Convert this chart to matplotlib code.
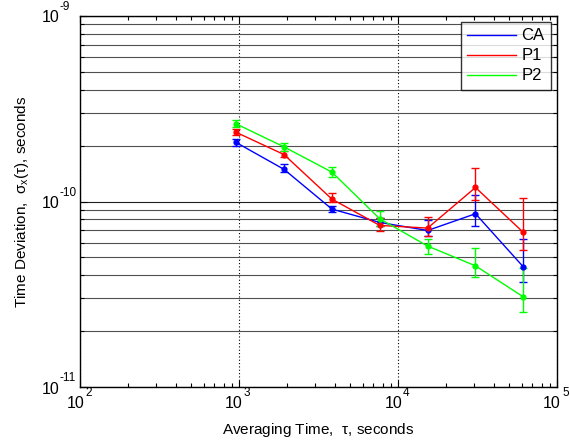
import matplotlib
matplotlib.use("Agg")
import matplotlib.pyplot as plt
from matplotlib.ticker import LogLocator, NullFormatter, FixedLocator
from matplotlib.transforms import offset_copy
import numpy as np

plt.rcParams['font.family'] = ['Liberation Sans', 'DejaVu Sans']
plt.rcParams['mathtext.fontset'] = 'custom'
plt.rcParams['mathtext.rm'] = 'Liberation Sans'
plt.rcParams['mathtext.it'] = 'Liberation Sans'
plt.rcParams['mathtext.sf'] = 'Liberation Sans'

tau = [960, 1920, 3840, 7680, 15360, 30720, 61440]

ca = [2.08e-10, 1.49e-10, 9.1e-11, 7.71e-11, 6.98e-11, 8.59e-11, 4.44e-11]
ca_hi = [2.18e-10, 1.59e-10, 9.48e-11, 8.15e-11, 7.97e-11, 1.087e-10, 6.28e-11]
ca_lo = [1.98e-10, 1.44e-10, 8.73e-11, 7.34e-11, 6.54e-11, 7.39e-11, 3.67e-11]

p1 = [2.36e-10, 1.79e-10, 1.03e-10, 7.43e-11, 7.19e-11, 1.19e-10, 6.81e-11]
p1_hi = [2.45e-10, 1.88e-10, 1.11e-10, 8.15e-11, 8.2e-11, 1.52e-10, 1.04e-10]
p1_lo = [2.28e-10, 1.73e-10, 1.0e-10, 6.9e-11, 6.49e-11, 1.02e-10, 5.45e-11]

p2 = [2.62e-10, 1.97e-10, 1.44e-10, 8.07e-11, 5.75e-11, 4.5e-11, 3.06e-11]
p2_hi = [2.76e-10, 2.07e-10, 1.54e-10, 8.91e-11, 6.28e-11, 5.59e-11, 4.39e-11]
p2_lo = [2.51e-10, 1.88e-10, 1.36e-10, 7.34e-11, 5.24e-11, 3.94e-11, 2.53e-11]

x_ticks = [1e2, 1e3, 1e4, 1e5]
x_exps = ['2', '3', '4', '5']
y_ticks = [1e-11, 1e-10, 1e-9]
y_exps = ['-11', '-10', '-9']

series = [("CA", ca, ca_lo, ca_hi, "#0000ff"),
          ("P1", p1, p1_lo, p1_hi, "#ff0000"),
          ("P2", p2, p2_lo, p2_hi, "#00ff00")]

fig = plt.figure(figsize=(5.7, 4.45), dpi=100)
ax = fig.add_axes([80/570, 1-387/445, (557-80)/570, (387-16)/445])
ax.set_xscale('log')
ax.set_yscale('log')
ax.set_xlim(1e2, 1e5)
ax.set_ylim(1e-11, 1e-9)

ax.xaxis.set_major_locator(FixedLocator(x_ticks))
ax.yaxis.set_major_locator(FixedLocator(y_ticks))
ax.xaxis.set_major_formatter(NullFormatter())
ax.yaxis.set_major_formatter(NullFormatter())
ax.yaxis.set_minor_locator(LogLocator(base=10, subs=np.arange(2, 10)))
ax.yaxis.set_minor_formatter(NullFormatter())
ax.xaxis.set_minor_locator(LogLocator(base=10, subs=np.arange(2, 10)))
ax.xaxis.set_minor_formatter(NullFormatter())
ax.grid(True, which='major', axis='y', color='#202020', lw=0.8, ls='-')
ax.grid(True, which='minor', axis='y', color='#505050', lw=0.8, ls='-')
ax.grid(True, which='major', axis='x', color='black', lw=0.8, ls=(0, (1, 2)))
ax.set_axisbelow(True)

handles = []
for name, v, lo, hi, c in series:
    v = np.array(v); lo = np.array(lo); hi = np.array(hi)
    err = np.vstack([v - lo, hi - v])
    ax.errorbar(tau, v, yerr=err, color=c, lw=1.0, elinewidth=1.0,
                capsize=3, capthick=1.0, marker='o', ms=3.5, zorder=3)
    h, = ax.plot([], [], color=c, lw=1.0, label=name)
    handles.append(h)

leg = ax.legend(handles=handles, loc='upper right', fontsize=12,
                frameon=True, fancybox=False, edgecolor='black',
                handlelength=2.9, handletextpad=0.35, borderaxespad=0.35,
                labelspacing=0.3, borderpad=0.4)
leg.get_frame().set_linewidth(1.0)

ax.tick_params(which='both', direction='in', top=True, right=True, width=0.8)
ax.tick_params(which='major', length=5)
ax.tick_params(which='minor', length=3)
for s in ax.spines.values():
    s.set_linewidth(1.0)

# MATLAB-style tick labels: base "10" with raised exponent
base_fs = 11.5
exp_fs = 8.5
ytr = ax.get_yaxis_transform()
for v, e in zip(y_ticks, y_exps):
    ax.text(0, v, '10', fontsize=base_fs, ha='right', va='baseline',
            transform=offset_copy(ytr, fig, x=-20.5, y=-6.5, units='dots'),
            clip_on=False)
    ax.text(0, v, e, fontsize=exp_fs, ha='left', va='baseline',
            transform=offset_copy(ytr, fig, x=-20, y=6.0, units='dots'),
            clip_on=False)
xtr = ax.get_xaxis_transform()
for v, e in zip(x_ticks, x_exps):
    ax.text(v, 0, '10', fontsize=base_fs, ha='right', va='baseline',
            transform=offset_copy(xtr, fig, x=4, y=-21, units='dots'),
            clip_on=False)
    ax.text(v, 0, e, fontsize=exp_fs, ha='left', va='baseline',
            transform=offset_copy(xtr, fig, x=5, y=-9, units='dots'),
            clip_on=False)

ax.set_xlabel(r'Averaging Time,  $\tau$, seconds', fontsize=11)
ax.set_ylabel(r'Time Deviation,  $\sigma_x(\tau)$, seconds', fontsize=11)
ax.xaxis.set_label_coords(0.5, -0.092)
ax.yaxis.set_label_coords(-0.103, 0.5)

fig.savefig('out.png', dpi=100)
